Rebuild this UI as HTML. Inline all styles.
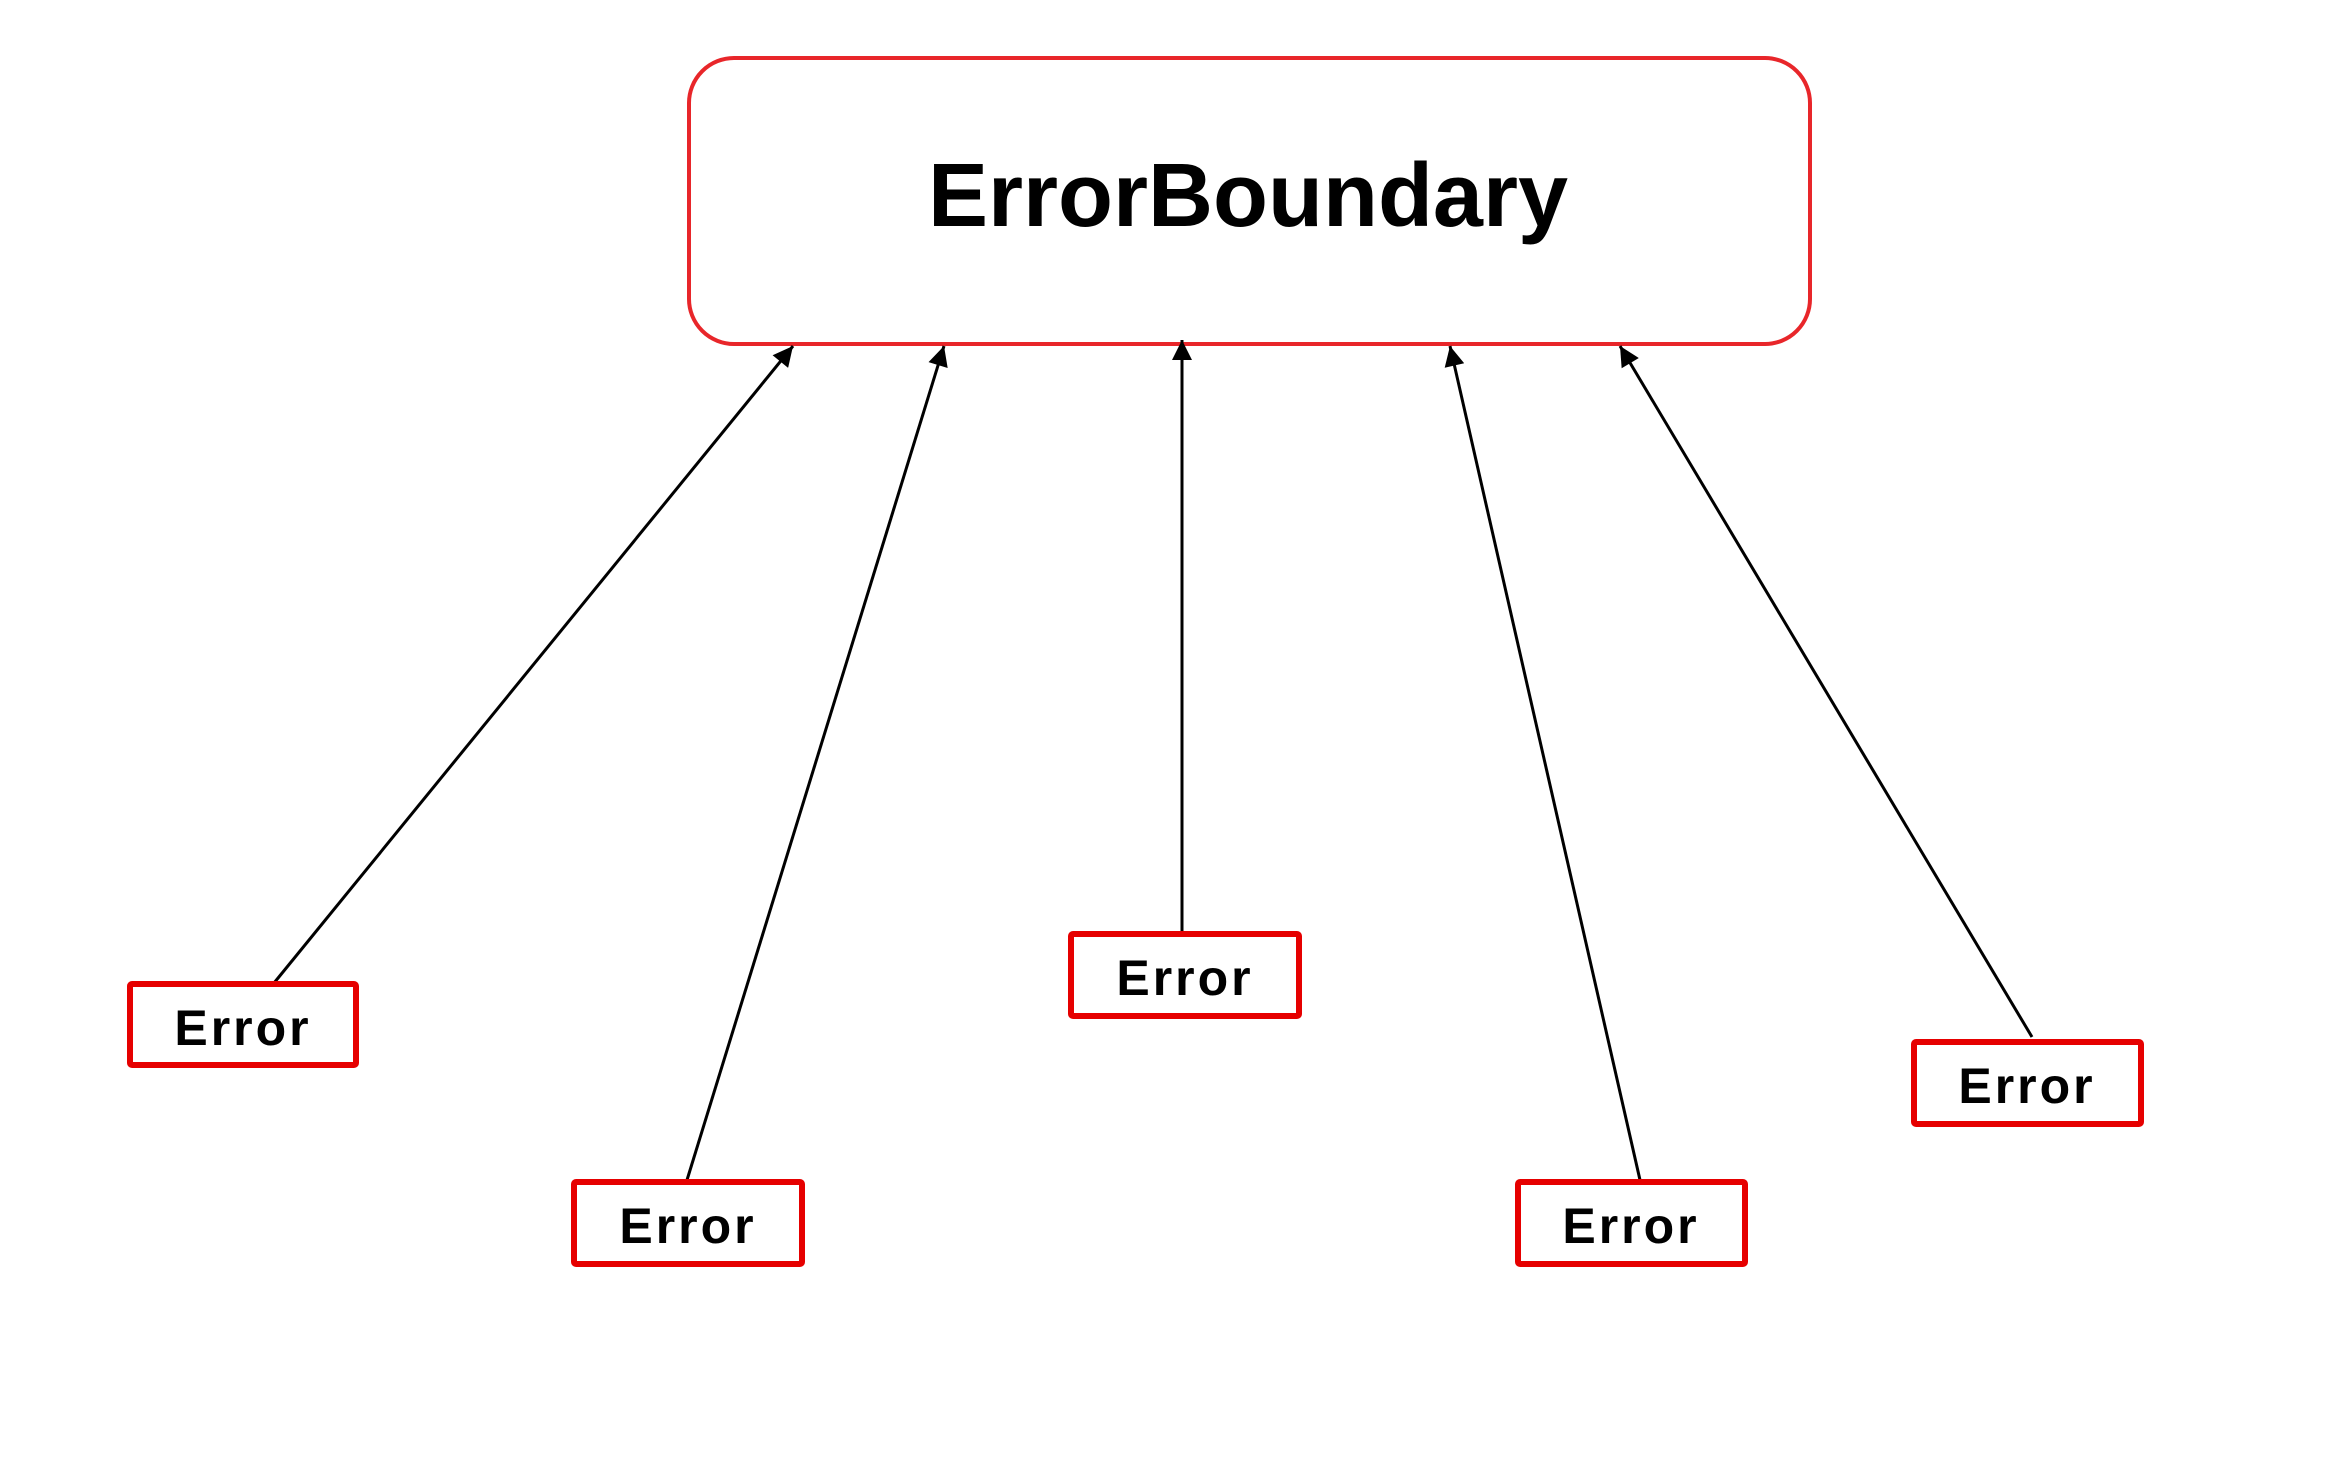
<!DOCTYPE html>
<html><head><meta charset="utf-8"><style>
html,body{margin:0;padding:0;background:#fff;}
body{width:2346px;height:1470px;overflow:hidden;}
</style></head><body>
<svg width="2346" height="1470" xmlns="http://www.w3.org/2000/svg">
<defs>
<marker id="h" viewBox="0 0 10 10" refX="10" refY="5" markerWidth="24" markerHeight="20" markerUnits="userSpaceOnUse" orient="auto"><path d="M0,0 L10,5 L0,10 z" fill="#000"/></marker>
</defs>
<rect x="689" y="58" width="1121" height="286" rx="45" fill="#fff" stroke="#e8262a" stroke-width="4"/>
<text x="1248" y="226" text-anchor="middle" font-family="Liberation Sans, sans-serif" font-weight="bold" font-size="90" fill="#000">ErrorBoundary</text>
<g stroke="#000" stroke-width="3" fill="none" marker-end="url(#h)">
<line x1="274" y1="983" x2="793" y2="346"/>
<line x1="687" y1="1180" x2="944" y2="346"/>
<line x1="1182" y1="938" x2="1182" y2="340"/>
<line x1="1640" y1="1180" x2="1450" y2="346"/>
<line x1="2032" y1="1037" x2="1620" y2="346"/>
</g>
<g fill="#fff" stroke="#e60000" stroke-width="6">
<rect x="130" y="984" width="226" height="81" rx="2"/>
<rect x="574" y="1182" width="228" height="82" rx="2"/>
<rect x="1071" y="934" width="228" height="82" rx="2"/>
<rect x="1518" y="1182" width="227" height="82" rx="2"/>
<rect x="1914" y="1042" width="227" height="82" rx="2"/>
</g>
<g font-family="Liberation Sans, sans-serif" font-weight="bold" font-size="50" letter-spacing="3" fill="#000" text-anchor="middle">
<text x="243" y="1045">Error</text>
<text x="688" y="1243">Error</text>
<text x="1185" y="995">Error</text>
<text x="1631" y="1243">Error</text>
<text x="2027" y="1103">Error</text>
</g>
</svg>
</body></html>
